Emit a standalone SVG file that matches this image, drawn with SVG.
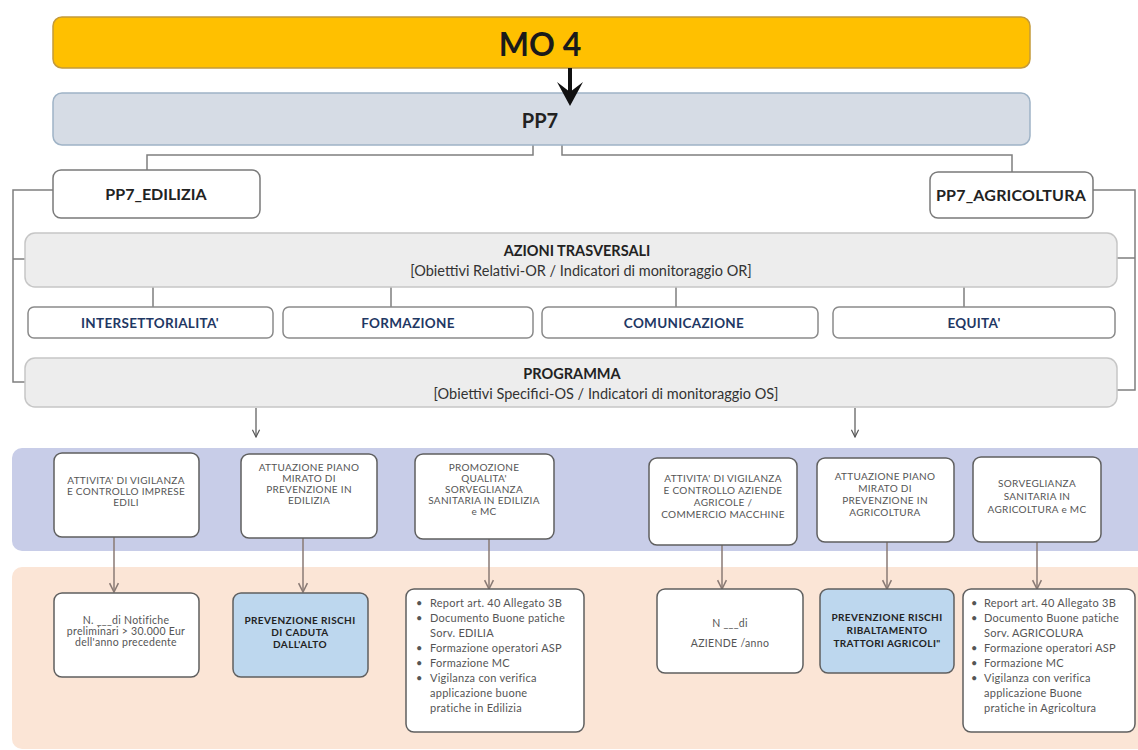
<svg xmlns="http://www.w3.org/2000/svg" width="1138" height="750" viewBox="0 0 1138 750">
<defs>
<style>
.t{font-family:Lato,"Liberation Sans",sans-serif;text-anchor:middle}
.conn{fill:none;stroke:#7f7f7f;stroke-width:1.5}
.arr{fill:none;stroke:#555;stroke-width:1.2}
.barr{fill:none;stroke:#8a7a74;stroke-width:1.5}
.hdr{fill:#fff;stroke:#7a7a7a;stroke-width:1.5}
.panel{fill:#ededed;stroke:#c6c6c6;stroke-width:1.5}
.tab{fill:#fff;stroke:#8a8a8a;stroke-width:1.5}
.node{fill:#fff;stroke:#5f5f5f;stroke-width:1.5}
.bnode{fill:#bdd7ee;stroke:#5f5f5f;stroke-width:1.5}
.tabtxt{font-size:13.5px;font-weight:bold;fill:#1f3864;letter-spacing:0.3px}
.ttl{font-size:14.5px;font-weight:bold;fill:#222}
.sub{font-size:14.5px;fill:#333}
.sm{font-size:10px;fill:#555;letter-spacing:0.3px}
.smm{font-size:10.5px;fill:#555;letter-spacing:0.3px}
.smb{font-size:10px;font-weight:bold;fill:#222;letter-spacing:0.4px}
.li{font-family:Lato,"Liberation Sans",sans-serif;font-size:11px;fill:#555;letter-spacing:0.25px}
</style>
<marker id="vee" viewBox="0 0 10 10" refX="9" refY="5" markerWidth="9" markerHeight="9" markerUnits="userSpaceOnUse" orient="auto">
<path d="M1,1 L9,5 L1,9" fill="none" stroke="#555" stroke-width="1.3"/>
</marker>
<marker id="veeb" viewBox="0 0 10 10" refX="9" refY="5" markerWidth="11" markerHeight="11" markerUnits="userSpaceOnUse" orient="auto">
<path d="M1,1 L9,5 L1,9" fill="none" stroke="#8a7a74" stroke-width="1.4"/>
</marker>
</defs>
<rect width="1138" height="750" fill="#fff"/>

<!-- bands -->
<rect x="12" y="448" width="1140" height="103" rx="10" fill="#c8cde8"/>
<rect x="12" y="567" width="1140" height="182" rx="10" fill="#fbe5d6"/>

<g id="connectors">
<path class="conn" d="M533,145 V155 H147 V170"/>
<path class="conn" d="M562,145 V155 H1012 V172"/>
<path class="conn" d="M53,190 H13 V382 H25 M13,259 H25"/>
<path class="conn" d="M1093,190 H1135 V390 H1117 M1135,258 H1117"/>
<path class="conn" d="M153,287 V307 M391,287 V307 M676,287 V307 M964,287 V307"/>
<path class="arr" d="M256,408 V437" marker-end="url(#vee)"/>
<path class="arr" d="M855,408 V437" marker-end="url(#vee)"/>
<path class="barr" d="M114,537 V592" marker-end="url(#veeb)"/>
<path class="barr" d="M303,538 V592" marker-end="url(#veeb)"/>
<path class="barr" d="M489,539 V589" marker-end="url(#veeb)"/>
<path class="barr" d="M722,545 V589" marker-end="url(#veeb)"/>
<path class="barr" d="M887,542 V589" marker-end="url(#veeb)"/>
<path class="barr" d="M1037,542 V589" marker-end="url(#veeb)"/>
</g>

<g id="mo4">
<rect x="53" y="17" width="977" height="51" rx="9" fill="#ffc000" stroke="#c49a3a" stroke-width="1.5"/>
<text class="t" x="540" y="56" font-size="32" font-weight="bold" fill="#1a1a1a">MO 4</text>
</g>

<g id="pp7">
<rect x="53" y="93" width="977" height="52" rx="9" fill="#d6dce5" stroke="#9fb3c6" stroke-width="1.5"/>
<text class="t" x="540" y="128" font-size="20" font-weight="bold" fill="#222">PP7</text>
</g>

<g id="mo4-arrow">
<path d="M570,68 V94" stroke="#111" stroke-width="4" fill="none"/>
<path d="M557,82 L570,106 L583,82 L570,92 Z" fill="#111"/>
</g>

<g id="pp7-edilizia">
<rect class="hdr" x="53" y="170" width="207" height="48" rx="8"/>
<text class="t" x="156" y="200" font-size="16" font-weight="bold" fill="#222">PP7_EDILIZIA</text>
</g>

<g id="pp7-agricoltura">
<rect class="hdr" x="930" y="172" width="163" height="46" rx="8"/>
<text class="t" x="1011" y="201" font-size="16" font-weight="bold" fill="#222" letter-spacing="0.2">PP7_AGRICOLTURA</text>
</g>

<g id="azioni">
<rect class="panel" x="25" y="233" width="1092" height="54" rx="10"/>
<text class="t ttl" x="577" y="256">AZIONI TRASVERSALI</text>
<text class="t sub" x="581" y="276">[Obiettivi Relativi-OR / Indicatori di monitoraggio OR]</text>
</g>

<g id="intersettorialita">
<rect class="tab" x="28" y="307" width="245" height="31" rx="6"/>
<text class="t tabtxt" x="150" y="328">INTERSETTORIALITA'</text>
</g>
<g id="formazione">
<rect class="tab" x="283" y="307" width="250" height="31" rx="6"/>
<text class="t tabtxt" x="408" y="328">FORMAZIONE</text>
</g>
<g id="comunicazione">
<rect class="tab" x="542" y="307" width="276" height="31" rx="6"/>
<text class="t tabtxt" x="684" y="328">COMUNICAZIONE</text>
</g>
<g id="equita">
<rect class="tab" x="833" y="307" width="282" height="31" rx="6"/>
<text class="t tabtxt" x="974" y="328">EQUITA'</text>
</g>

<g id="programma">
<rect class="panel" x="25" y="358" width="1092" height="49" rx="10"/>
<text class="t ttl" x="572" y="379">PROGRAMMA</text>
<text class="t sub" x="606" y="399">[Obiettivi Specifici-OS / Indicatori di monitoraggio OS]</text>
</g>

<g id="vigilanza-edili">
<rect class="node" x="54" y="453" width="145" height="84" rx="8"/>
<text class="t sm"><tspan x="126" y="484">ATTIVITA' DI VIGILANZA</tspan><tspan x="126" y="495">E CONTROLLO  IMPRESE</tspan><tspan x="126" y="506">EDILI</tspan></text>
</g>
<g id="piano-edilizia">
<rect class="node" x="241" y="454" width="136" height="84" rx="8"/>
<text class="t sm"><tspan x="309" y="471">ATTUAZIONE  PIANO</tspan><tspan x="309" y="482">MIRATO DI</tspan><tspan x="309" y="493">PREVENZIONE  IN</tspan><tspan x="309" y="504">EDILIZIA</tspan></text>
</g>
<g id="promozione-edilizia">
<rect class="node" x="415" y="454" width="139" height="85" rx="8"/>
<text class="t sm"><tspan x="484" y="471">PROMOZIONE</tspan><tspan x="484" y="482">QUALITA'</tspan><tspan x="484" y="493">SORVEGLIANZA</tspan><tspan x="484" y="504">SANITARIA  IN EDILIZIA</tspan><tspan x="484" y="515">e MC</tspan></text>
</g>
<g id="vigilanza-agricole">
<rect class="node" x="649" y="458" width="148" height="87" rx="8"/>
<text class="t sm"><tspan x="723" y="482">ATTIVITA' DI VIGILANZA</tspan><tspan x="723" y="494">E CONTROLLO  AZIENDE</tspan><tspan x="723" y="506">AGRICOLE /</tspan><tspan x="723" y="518">COMMERCIO MACCHINE</tspan></text>
</g>
<g id="piano-agricoltura">
<rect class="node" x="817" y="458" width="137" height="84" rx="8"/>
<text class="t sm"><tspan x="885" y="480">ATTUAZIONE  PIANO</tspan><tspan x="885" y="492">MIRATO DI</tspan><tspan x="885" y="504">PREVENZIONE  IN</tspan><tspan x="885" y="516">AGRICOLTURA</tspan></text>
</g>
<g id="sorveglianza-agricoltura">
<rect class="node" x="973" y="457" width="128" height="85" rx="8"/>
<text class="t sm"><tspan x="1037" y="487">SORVEGLIANZA</tspan><tspan x="1037" y="500">SANITARIA  IN</tspan><tspan x="1037" y="513">AGRICOLTURA  e  MC</tspan></text>
</g>

<g id="notifiche">
<rect class="node" x="54" y="593" width="145" height="84" rx="8"/>
<text class="t smm"><tspan x="126" y="624">N. ___di  Notifiche</tspan><tspan x="126" y="635">preliminari &gt; 30.000 Eur</tspan><tspan x="126" y="646">dell'anno precedente</tspan></text>
</g>
<g id="caduta">
<rect class="bnode" x="233" y="593" width="135" height="84" rx="8"/>
<text class="t smb"><tspan x="300" y="624">PREVENZIONE  RISCHI</tspan><tspan x="300" y="636">DI CADUTA</tspan><tspan x="300" y="648">DALL'ALTO</tspan></text>
</g>
<g id="report-edilizia">
<rect class="node" x="406" y="589" width="178" height="143" rx="8"/>
<text class="li">
<tspan x="416" y="607">•</tspan><tspan x="430" y="607">Report art. 40 Allegato 3B</tspan>
<tspan x="416" y="622">•</tspan><tspan x="430" y="622">Documento  Buone patiche</tspan>
<tspan x="430" y="637">Sorv. EDILIA</tspan>
<tspan x="416" y="652">•</tspan><tspan x="430" y="652">Formazione operatori ASP</tspan>
<tspan x="416" y="667">•</tspan><tspan x="430" y="667">Formazione MC</tspan>
<tspan x="416" y="682">•</tspan><tspan x="430" y="682">Vigilanza con verifica</tspan>
<tspan x="430" y="697">applicazione buone</tspan>
<tspan x="430" y="712">pratiche in Edilizia</tspan>
</text>
</g>
<g id="aziende">
<rect class="node" x="657" y="589" width="146" height="84" rx="8"/>
<text class="t smm"><tspan x="730" y="627">N  ___di</tspan><tspan x="730" y="647">AZIENDE  /anno</tspan></text>
</g>
<g id="ribaltamento">
<rect class="bnode" x="820" y="589" width="134" height="84" rx="8"/>
<text class="t smb"><tspan x="887" y="621">PREVENZIONE  RISCHI</tspan><tspan x="887" y="634">RIBALTAMENTO</tspan><tspan x="887" y="647">TRATTORI  AGRICOLI"</tspan></text>
</g>
<g id="report-agricoltura">
<rect class="node" x="963" y="589" width="172" height="143" rx="8"/>
<text class="li">
<tspan x="971" y="607">•</tspan><tspan x="984" y="607">Report art. 40 Allegato 3B</tspan>
<tspan x="971" y="622">•</tspan><tspan x="984" y="622">Documento  Buone patiche</tspan>
<tspan x="984" y="637">Sorv. AGRICOLURA</tspan>
<tspan x="971" y="652">•</tspan><tspan x="984" y="652">Formazione operatori ASP</tspan>
<tspan x="971" y="667">•</tspan><tspan x="984" y="667">Formazione MC</tspan>
<tspan x="971" y="682">•</tspan><tspan x="984" y="682">Vigilanza con verifica</tspan>
<tspan x="984" y="697">applicazione Buone</tspan>
<tspan x="984" y="712">pratiche in Agricoltura</tspan>
</text>
</g>
</svg>
